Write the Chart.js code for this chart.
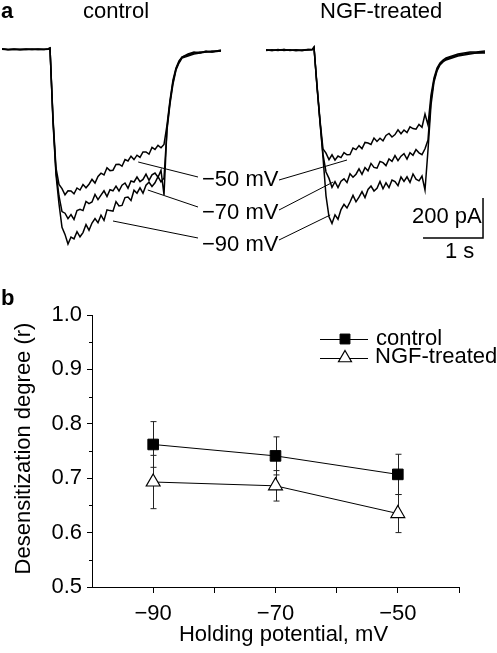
<!DOCTYPE html>
<html>
<head>
<meta charset="utf-8">
<title>Desensitization vs holding potential</title>
<script src="https://cdn.jsdelivr.net/npm/chart.js@4.4.1/dist/chart.umd.min.js"></script>
<style>
  html, body { margin: 0; padding: 0; background: #fff; }
  #wrap { position: relative; width: 497px; height: 653px; }
  #wrap canvas { position: absolute; left: 0; top: 0; }
</style>
</head>
<body>
<div id="wrap">
  <canvas id="traceChart" width="497" height="653"></canvas>
  <canvas id="dataChart" width="497" height="653"></canvas>
</div>
<script>
// ---- panel a : current traces (time in s from agonist onset, current in pA) ----
var time = [-0.8, -0.7, -0.6, -0.5, -0.4, -0.3, -0.2, -0.1, -0.03, 0,
  0.05, 0.1, 0.15, 0.2, 0.25, 0.3, 0.35, 0.4, 0.45, 0.5, 0.55, 0.6, 0.65, 0.7, 0.75,
  0.8, 0.85, 0.9, 0.95, 1.0, 1.05, 1.1, 1.15, 1.2, 1.25, 1.3, 1.35, 1.4, 1.45, 1.5,
  1.55, 1.6, 1.65, 1.7, 1.75, 1.8, 1.85, 1.9, 1.95, 2.0, 2.05, 2.1, 2.15, 2.2,
  2.3, 2.4, 2.5, 2.6, 2.7, 2.85];

// control cell
var ctrl50 = [4, 1, 5, 2, 4, 3, 5, 2, 4, 8,
  -340, -590, -672, -693, -724, -704, -705, -719, -690, -700, -673, -689, -671, -647, -665,
  -632, -616, -625, -589, -603, -601, -572, -571, -581, -548, -555, -531, -548, -526, -537,
  -510, -510, -521, -487, -497, -477, -489, -472, -375, -250, -150, -90, -55, -35,
  -20, -10, -15, -5, -10, 0];
var ctrl70 = [6, 3, 4, 1, 5, 2, 4, 3, 6, 10,
  -350, -610, -730, -808, -816, -843, -823, -847, -803, -797, -803, -757, -768, -760, -722,
  -748, -726, -704, -733, -699, -704, -681, -705, -676, -665, -691, -655, -660, -635, -658,
  -647, -621, -652, -624, -615, -636, -602, -725, -390, -260, -160, -95, -60, -35,
  -25, -15, -10, -10, -5, -5];
var ctrl90 = [5, 2, 3, 4, 2, 5, 3, 4, 5, 9,
  -360, -625, -769, -887, -922, -970, -935, -944, -908, -934, -913, -873, -901, -865, -843,
  -864, -826, -852, -799, -803, -806, -758, -780, -777, -738, -735, -752, -701, -716, -689,
  -716, -676, -661, -682, -664, -633, -659, -640, -400, -270, -170, -100, -65, -40,
  -30, -20, -15, -10, -10, -5];

// NGF-treated cell
var ngf50 = [0, -3, 2, -2, 1, -4, 0, 3, 2, 15,
  -175, -350, -494, -516, -548, -524, -551, -530, -538, -513, -524, -523, -490, -498, -478,
  -493, -462, -465, -472, -440, -457, -441, -454, -427, -417, -435, -423, -399, -419, -400,
  -413, -384, -393, -396, -372, -386, -320, -375, -225, -140, -90, -65, -50, -40,
  -30, -20, -15, -10, -10, -5];
var ngf70 = [-2, 1, -3, 2, -1, 0, -4, 2, 1, 12,
  -180, -360, -522, -610, -642, -687, -658, -688, -656, -644, -662, -619, -636, -621, -594,
  -622, -588, -604, -567, -587, -591, -557, -563, -578, -545, -557, -528, -553, -531, -518,
  -545, -513, -526, -498, -514, -523, -494, -450, -250, -150, -100, -70, -55, -45,
  -35, -25, -20, -15, -15, -10];
var ngf90 = [1, -2, 0, 3, -3, 1, -1, 0, 2, 14,
  -185, -360, -536, -729, -834, -867, -824, -846, -798, -772, -790, -760, -727, -759, -736,
  -708, -738, -697, -680, -705, -691, -657, -694, -664, -688, -650, -658, -678, -635, -657,
  -634, -662, -620, -646, -654, -630, -700, -500, -275, -160, -105, -75, -60, -50,
  -40, -30, -25, -20, -15, -15];

var traceLabels = ['\u221250 mV', '\u221270 mV', '\u221290 mV'];
var scaleBarTime = 1;      // s
var scaleBarCurrent = 200; // pA

// ---- panel b : desensitization degree ----
var potentials = [-90, -70, -50];
var controlMean = [0.762, 0.741, 0.707];
var controlErr = [0.042, 0.035, 0.037];
var ngfMean = [0.693, 0.686, 0.635];
var ngfErr = [0.049, 0.028, 0.035];
var labelledTicks = [-90, -70, -50];

var FONT = '"Liberation Sans", Arial, Helvetica, sans-serif';
Chart.defaults.font.family = FONT;
Chart.defaults.color = '#000';

// where the NGF panel starts, relative to the control panel (s)
var ngfOffset = 4.4;

function toPoints(values, offset) {
    return time.map(function (t, i) { return { x: t + offset, y: values[i] }; });
}

function traceSet(values, offset) {
    return {
        data: toPoints(values, offset),
        borderColor: '#000',
        borderWidth: 1.5,
        pointRadius: 0,
        tension: 0
    };
}

// leader lines: from the label to a spot on the trace (t, pA)
var leaders = [
    { from: [198, 177], t: 1.47, pA: -560, offset: 0 },
    { from: [198, 207], t: 1.63, pA: -700, offset: 0 },
    { from: [198, 238], t: 1.05, pA: -855, offset: 0 },
    { from: [279, 180], t: 0.55, pA: -550, offset: ngfOffset },
    { from: [279, 210], t: 0.32, pA: -660, offset: ngfOffset },
    { from: [279, 240], t: 0.27, pA: -825, offset: ngfOffset }
];

var traceDecor = {
    id: 'traceDecor',
    afterDatasetsDraw: function (chart) {
        var ctx = chart.ctx, x = chart.scales.x, y = chart.scales.y;
        ctx.save();
        ctx.strokeStyle = '#000';
        ctx.lineWidth = 1;
        leaders.forEach(function (l) {
            ctx.beginPath();
            ctx.moveTo(l.from[0], l.from[1]);
            ctx.lineTo(x.getPixelForValue(l.t + l.offset), y.getPixelForValue(l.pA));
            ctx.stroke();
        });
        ctx.fillStyle = '#000';
        ctx.textBaseline = 'alphabetic';
        ctx.font = 'bold 22px ' + FONT;
        ctx.fillText('a', 1, 18);
        ctx.font = '22px ' + FONT;
        ctx.fillText('control', 83, 18);
        ctx.fillText('NGF-treated', 320, 18);
        ctx.fillText(traceLabels[0], 202, 186);
        ctx.fillText(traceLabels[1], 202, 219);
        ctx.fillText(traceLabels[2], 202, 251);
        ctx.fillText(scaleBarCurrent + ' pA', 412, 223);
        ctx.fillText(scaleBarTime + ' s', 445, 258);
        ctx.restore();
    }
};

// scale bar corner (s, pA) in panel coordinates
var barX = 7.217, barY = -940;

new Chart(document.getElementById('traceChart'), {
    type: 'line',
    data: {
        datasets: [
            traceSet(ctrl50, 0), traceSet(ctrl70, 0), traceSet(ctrl90, 0),
            traceSet(ngf50, ngfOffset), traceSet(ngf70, ngfOffset), traceSet(ngf90, ngfOffset),
            {
                data: [{ x: barX - scaleBarTime, y: barY }, { x: barX, y: barY }, { x: barX, y: barY + scaleBarCurrent }],
                borderColor: '#000', borderWidth: 1.5, pointRadius: 0, tension: 0
            }
        ]
    },
    options: {
        responsive: false,
        animation: false,
        events: [],
        layout: { padding: { left: 0, right: 0, top: 0, bottom: 383 } },
        plugins: { legend: { display: false }, tooltip: { enabled: false } },
        scales: {
            x: { type: 'linear', display: false, min: -50 / 60, max: 447 / 60 },
            y: { type: 'linear', display: false, min: -1100, max: 250 }
        }
    },
    plugins: [traceDecor]
});

// error bars, drawn under the markers
var errorBars = {
    id: 'errorBars',
    beforeDatasetsDraw: function (chart) {
        var ctx = chart.ctx, x = chart.scales.x, y = chart.scales.y;
        ctx.save();
        ctx.strokeStyle = '#222';
        ctx.lineWidth = 1;
        chart.data.datasets.forEach(function (ds) {
            ds.data.forEach(function (p, i) {
                var px = Math.round(x.getPixelForValue(p.x)) + 0.5;
                var top = y.getPixelForValue(p.y + ds.errors[i]);
                var bot = y.getPixelForValue(p.y - ds.errors[i]);
                ctx.beginPath();
                ctx.moveTo(px, top); ctx.lineTo(px, bot);
                ctx.moveTo(px - 3, top); ctx.lineTo(px + 3, top);
                ctx.moveTo(px - 3, bot); ctx.lineTo(px + 3, bot);
                ctx.stroke();
            });
        });
        ctx.restore();
    }
};

var panelB = {
    id: 'panelB',
    afterDraw: function (chart) {
        var ctx = chart.ctx, y = chart.scales.y, area = chart.chartArea;
        ctx.save();
        ctx.strokeStyle = '#000';
        ctx.lineWidth = 1;
        // minor ticks on the y axis
        [0.55, 0.65, 0.75, 0.85, 0.95].forEach(function (v) {
            var py = Math.round(y.getPixelForValue(v)) + 0.5;
            ctx.beginPath();
            ctx.moveTo(area.left - 3, py); ctx.lineTo(area.left, py);
            ctx.stroke();
        });
        // legend
        var rows = [339, 358];
        chart.data.datasets.forEach(function (ds, i) {
            ctx.beginPath();
            ctx.moveTo(320, rows[i] + 0.5); ctx.lineTo(368, rows[i] + 0.5);
            ctx.stroke();
            ctx.fillStyle = ds.pointBackgroundColor;
            ctx.strokeStyle = '#000';
            ctx.lineWidth = ds.pointBorderWidth;
            Chart.helpers.drawPoint(ctx, { pointStyle: ds.pointStyle, radius: ds.pointRadius - 0.5, borderWidth: ds.pointBorderWidth, rotation: 0 }, 345, rows[i]);
            ctx.lineWidth = 1;
        });
        ctx.fillStyle = '#000';
        ctx.font = '22px ' + FONT;
        ctx.textBaseline = 'alphabetic';
        ctx.fillText(chart.data.datasets[0].label, 376, 345);
        ctx.fillText(chart.data.datasets[1].label, 375, 363);
        ctx.font = 'bold 22px ' + FONT;
        ctx.fillText('b', 1, 305);
        // axis titles
        ctx.font = '22px ' + FONT;
        ctx.textAlign = 'center';
        ctx.fillText('Holding potential, mV', 283.5, 641);
        ctx.translate(24, 448.5);
        ctx.rotate(-Math.PI / 2);
        ctx.textBaseline = 'middle';
        ctx.fillText('Desensitization degree (r)', 0, 0);
        ctx.restore();
    }
};

new Chart(document.getElementById('dataChart'), {
    type: 'line',
    data: {
        datasets: [
            {
                label: 'control',
                data: potentials.map(function (v, i) { return { x: v, y: controlMean[i] }; }),
                errors: controlErr,
                borderColor: '#000', borderWidth: 1, tension: 0,
                pointStyle: 'rect', pointRadius: 7.5,
                pointBackgroundColor: '#000', pointBorderColor: '#000', pointBorderWidth: 1
            },
            {
                label: 'NGF-treated',
                data: potentials.map(function (v, i) { return { x: v, y: ngfMean[i] }; }),
                errors: ngfErr,
                borderColor: '#000', borderWidth: 1, tension: 0,
                pointStyle: 'triangle', pointRadius: 8,
                pointBackgroundColor: '#fff', pointBorderColor: '#000', pointBorderWidth: 1.2
            }
        ]
    },
    options: {
        responsive: false,
        animation: false,
        events: [],
        layout: { padding: { left: 0, right: 38, top: 315, bottom: 0 } },
        plugins: { legend: { display: false }, tooltip: { enabled: false } },
        scales: {
            x: {
                type: 'linear', min: -100, max: -40,
                ticks: {
                    stepSize: 10, autoSkip: false, maxRotation: 0, padding: 8,
                    font: { size: 22 },
                    callback: function (v) { return labelledTicks.indexOf(v) >= 0 ? '\u2212' + Math.abs(v) : ''; }
                },
                grid: {
                    drawOnChartArea: false, tickLength: 6,
                    tickColor: function (c) { return c.tick && c.tick.value === -100 ? 'rgba(0,0,0,0)' : '#000'; }
                },
                border: { color: '#000', width: 1 },
                afterFit: function (s) { s.height = 66; }
            },
            y: {
                type: 'linear', min: 0.5, max: 1.0,
                ticks: {
                    stepSize: 0.1, padding: 5, font: { size: 22 },
                    callback: function (v) { return v.toFixed(1); }
                },
                grid: { drawOnChartArea: false, tickLength: 5, tickColor: '#000' },
                border: { color: '#000', width: 1 },
                afterFit: function (s) { s.width = 92; }
            }
        }
    },
    plugins: [errorBars, panelB]
});
</script>
</body>
</html>
